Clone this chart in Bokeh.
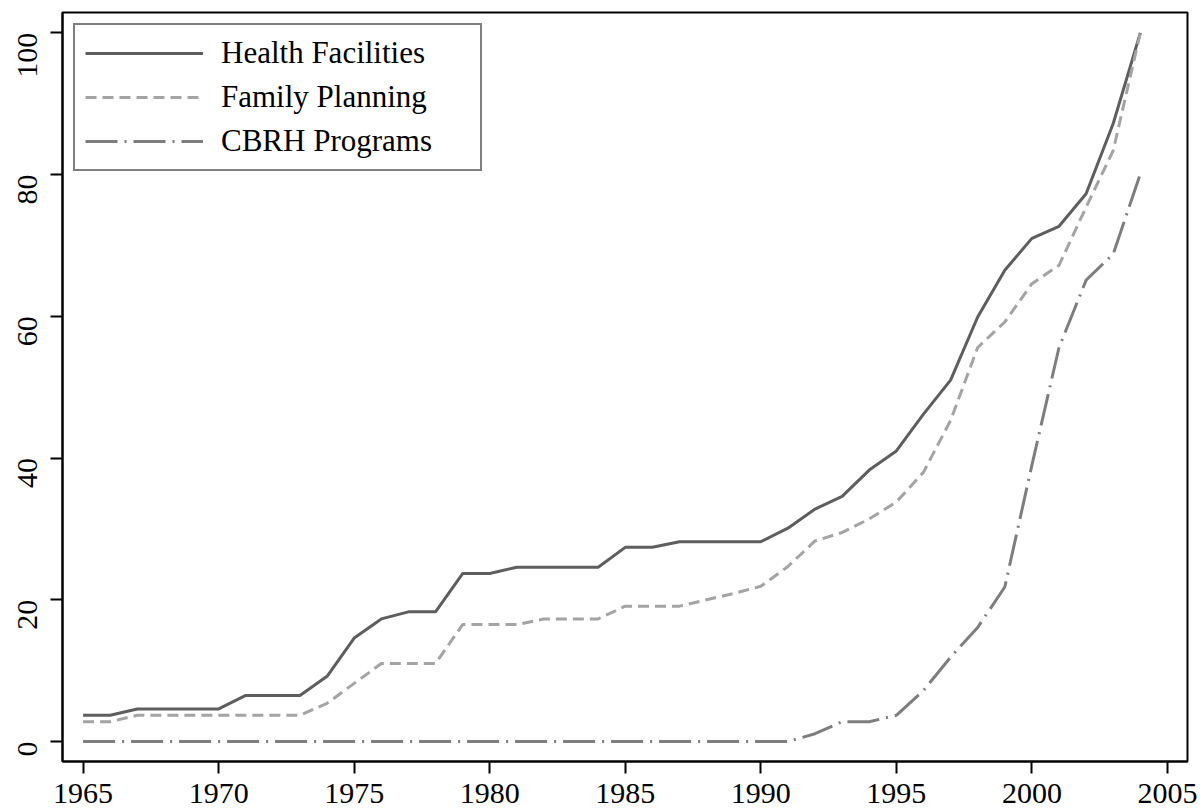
from bokeh.plotting import figure
from bokeh.models import Range1d, FixedTicker, Legend, LegendItem
from bokeh.embed import file_html
from bokeh.resources import INLINE
import math

years = list(range(1965, 2005))
health_facilities = [3.7, 3.7, 4.6, 4.6, 4.6, 4.6, 6.5, 6.5, 6.5, 9.2,
                     14.6, 17.3, 18.3, 18.3, 23.7, 23.7, 24.6, 24.6, 24.6, 24.6,
                     27.4, 27.4, 28.2, 28.2, 28.2, 28.2, 30.1, 32.8, 34.6, 38.3,
                     41.0, 46.2, 51.0, 59.9, 66.5, 71.0, 72.7, 77.3, 87.2, 100.0]
family_planning = [2.8, 2.8, 3.7, 3.7, 3.7, 3.7, 3.7, 3.7, 3.7, 5.4,
                   8.2, 11.0, 11.0, 11.0, 16.5, 16.5, 16.5, 17.3, 17.3, 17.3,
                   19.1, 19.1, 19.1, 20.0, 20.9, 21.9, 24.7, 28.3, 29.5, 31.4,
                   33.8, 38.0, 45.3, 55.6, 59.2, 64.6, 67.2, 75.4, 83.4, 100.0]
cbrh_programs = [0.0, 0.0, 0.0, 0.0, 0.0, 0.0, 0.0, 0.0, 0.0, 0.0,
                 0.0, 0.0, 0.0, 0.0, 0.0, 0.0, 0.0, 0.0, 0.0, 0.0,
                 0.0, 0.0, 0.0, 0.0, 0.0, 0.0, 0.0, 1.1, 2.8, 2.8,
                 3.7, 7.2, 11.9, 16.1, 21.8, 39.0, 55.6, 65.1, 68.8, 80.1]
series_names = ["Health Facilities", "Family Planning", "CBRH Programs"]
x_ticks = [1965, 1970, 1975, 1980, 1985, 1990, 1995, 2000, 2005]
y_ticks = [0, 20, 40, 60, 80, 100]

FONT = "Liberation Serif"

p = figure(width=1200, height=808, output_backend="svg", toolbar_location=None,
           x_range=Range1d(1964.24, 2005.74), y_range=Range1d(-2.82, 102.87),
           min_border_left=62, min_border_right=13, min_border_top=12, min_border_bottom=47)
p.grid.visible = False
p.outline_line_color = "black"
p.outline_line_width = 2
p.background_fill_color = "white"
p.border_fill_color = "white"

r1 = p.line(years, health_facilities, line_color="#5e5e5e", line_width=3)
r2 = p.line(years, family_planning, line_color="#a4a4a4", line_width=3, line_dash="11 6")
r3 = p.line(years, cbrh_programs, line_color="#7e7e7e", line_width=3, line_dash="32 7 2 7")

for ax in (p.xaxis[0], p.yaxis[0]):
    ax.axis_line_color = "black"
    ax.axis_line_width = 2
    ax.major_tick_line_color = "black"
    ax.major_tick_line_width = 2
    ax.major_tick_out = 12
    ax.major_tick_in = 0
    ax.minor_tick_line_color = None
    ax.major_label_text_font = FONT
    ax.major_label_text_font_size = "30px"
    ax.major_label_text_color = "black"

p.xaxis.ticker = FixedTicker(ticks=x_ticks)
p.yaxis.ticker = FixedTicker(ticks=y_ticks)
p.xaxis.major_label_standoff = 10
p.yaxis.major_label_standoff = 23
p.yaxis.major_label_orientation = math.pi / 2

legend = Legend(items=[LegendItem(label=series_names[0], renderers=[r1]),
                       LegendItem(label=series_names[1], renderers=[r2]),
                       LegendItem(label=series_names[2], renderers=[r3])],
                location="top_left")
legend.margin = 11
legend.padding = 10
legend.spacing = 8
legend.glyph_width = 118
legend.glyph_height = 30
legend.label_height = 30
legend.label_width = 249
legend.label_standoff = 18
legend.label_text_font = FONT
legend.label_text_font_size = "31px"
legend.label_text_color = "black"
legend.border_line_color = "black"
legend.border_line_width = 2
legend.background_fill_alpha = 1
p.add_layout(legend)

open("out.html", "w").write(file_html(p, INLINE))
